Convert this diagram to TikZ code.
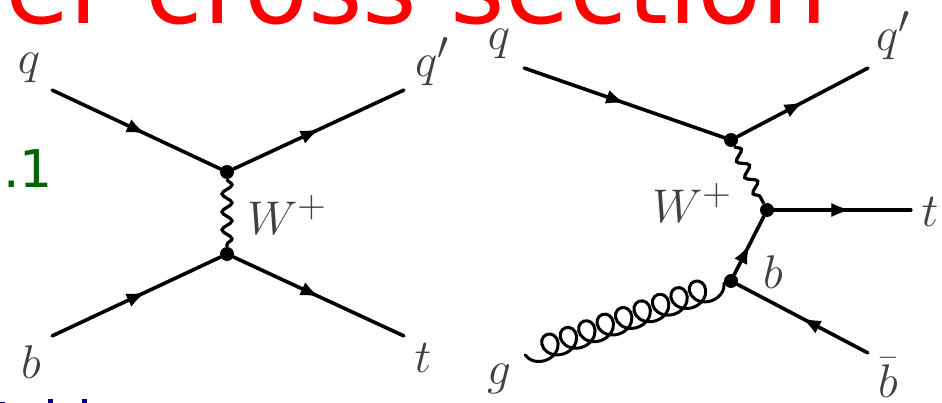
\documentclass[tikz,border=0pt]{standalone}
\usepackage{fontspec}
\setsansfont{DejaVu Sans}
\usetikzlibrary{decorations.pathmorphing,decorations.markings,arrows.meta}
\definecolor{labgray}{gray}{0.25}
\definecolor{numgreen}{RGB}{0,100,0}
\definecolor{navyblue}{RGB}{0,0,128}
\newcommand{\biglab}[1]{\scalebox{1.9}{\fontsize{24.88}{28}\selectfont$#1$}}
\tikzset{
  x=1pt,y=-1pt,
  fermion/.style={line width=3.6pt,line cap=round,postaction={decorate},decoration={markings,mark=at position #1 with {\arrow[line width=1pt]{Latex[length=18pt,width=14pt]}}}},
  fermion/.default=0.55,
  boson/.style={line width=3.2pt,decorate,decoration={snake,amplitude=5pt,segment length=18pt}},
  gluon/.style={line width=3pt,line cap=round,decorate,decoration={coil,mirror,aspect=1.05,amplitude=12pt,segment length=19.6pt,pre length=0pt,post length=0pt}},
  vertex/.style={circle,fill=black,inner sep=0pt,minimum size=14pt},
  endpt/.style={inner sep=0pt,minimum size=0pt},
  lab/.style={text=labgray,inner sep=0pt},
  titletext/.style={text=red,font=\sffamily\fontsize{104.7}{110}\selectfont,inner sep=0pt,anchor=base west},
  fragment/.style={fill=navyblue,draw=none},
}
\begin{document}
\begin{tikzpicture}
\useasboundingbox (0,0) rectangle (942,403);
\clip (0,0) rectangle (942,403);
\node[titletext] (title) at (5,24) {er cross section};
\node[anchor=base west,inner sep=0pt,text=numgreen,font=\sffamily\fontsize{52}{60}\selectfont] (num) at (3,188) {.1};
\fill[fragment] (48,398.5) rectangle (53,403);
\fill[fragment] (82,398.5) rectangle (87,403);
\fill[fragment] (0,402) rectangle (5,403);
% left diagram
\node[vertex] (a) at (227,172) {};
\node[vertex] (c) at (227,254) {};
\node[endpt] (a1) at (52,90) {};
\node[endpt] (a2) at (404,90) {};
\node[endpt] (a3) at (52,336) {};
\node[endpt] (a4) at (404,336) {};
\draw[fermion] (a1) -- (a);
\draw[fermion=0.5] (a) -- (a2);
\draw[fermion] (a3) -- (c);
\draw[fermion=0.5] (c) -- (a4);
\draw[boson] (a) -- (c);
\node[lab] (lq) at (29,68) {\biglab{q}};
\node[lab] (lqp) at (432,62) {\biglab{q'}};
\node[lab] (lb) at (31,362) {\biglab{b}};
\node[lab] (lt) at (423,358) {\biglab{t}};
\node[lab] (lw) at (287,215) {\biglab{W^+}};
% right diagram
\node[vertex] (v1) at (731,140) {};
\node[vertex] (v2) at (767,210) {};
\node[vertex] (v3) at (731,281) {};
\node[endpt] (b1) at (524,68) {};
\node[endpt] (b2) at (868,68) {};
\node[endpt] (b3) at (911,210) {};
\node[endpt] (b4) at (868,353) {};
\node[endpt] (b5) at (525,355) {};
\draw[fermion=0.5] (b1) -- (v1);
\draw[fermion=0.5] (v1) -- (b2);
\draw[fermion=0.55] (v2) -- (b3);
\draw[fermion=0.5] (v3) -- (v2);
\draw[fermion=0.5] (b4) -- (v3);
\draw[boson] (v1) -- (v2);
\draw[gluon] (b5) -- (v3);
\node[lab] (rq) at (499,44) {\biglab{q}};
\node[lab] (rqp) at (893,36) {\biglab{q'}};
\node[lab] (rw) at (692,203) {\biglab{W^+}};
\node[lab] (rt) at (930,212) {\biglab{t}};
\node[lab] (rb) at (773,272) {\biglab{b}};
\node[lab] (rg) at (499,379) {\biglab{g}};
\node[lab] (rbb) at (888,378) {\biglab{\bar b}};
\end{tikzpicture}
\end{document}
